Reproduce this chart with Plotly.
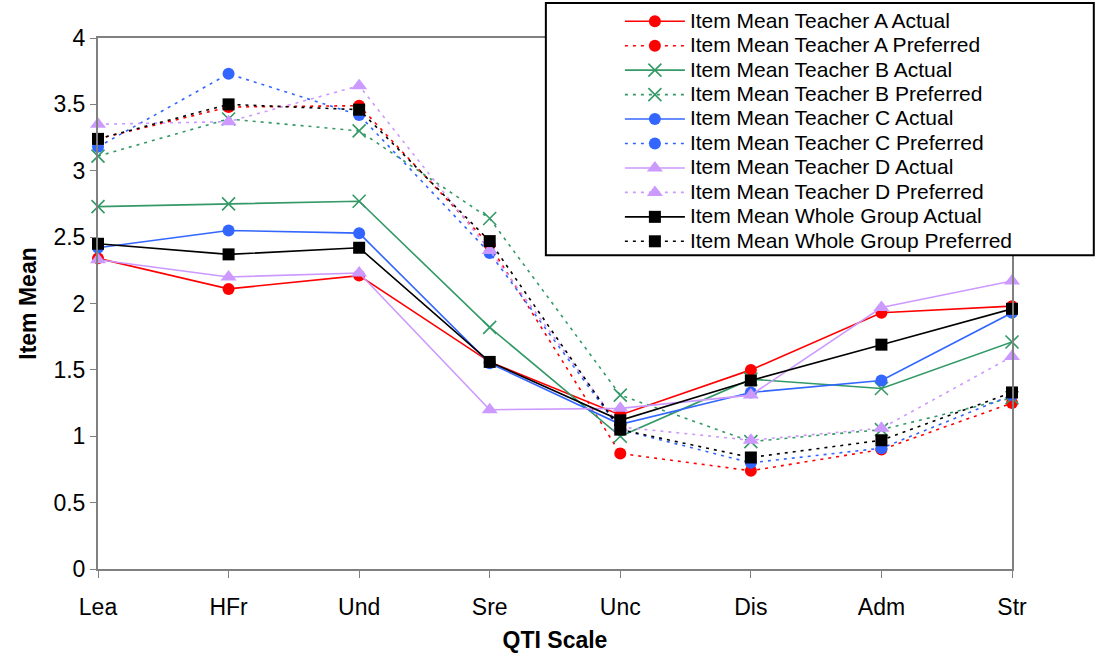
import plotly.graph_objects as go

scales = ["Lea", "HFr", "Und", "Sre", "Unc", "Dis", "Adm", "Str"]

teacher_a_actual = [2.34, 2.11, 2.21, 1.56, 1.16, 1.50, 1.93, 1.98]
teacher_a_preferred = [3.24, 3.48, 3.49, 2.44, 0.87, 0.74, 0.90, 1.25]
teacher_b_actual = [2.73, 2.75, 2.77, 1.82, 1.00, 1.43, 1.36, 1.71]
teacher_b_preferred = [3.11, 3.39, 3.30, 2.64, 1.31, 0.96, 1.05, 1.29]
teacher_c_actual = [2.42, 2.55, 2.53, 1.55, 1.09, 1.33, 1.42, 1.93]
teacher_c_preferred = [3.18, 3.73, 3.42, 2.38, 1.05, 0.80, 0.91, 1.31]
teacher_d_actual = [2.33, 2.20, 2.23, 1.20, 1.21, 1.31, 1.97, 2.17]
teacher_d_preferred = [3.35, 3.37, 3.64, 2.40, 1.07, 0.97, 1.06, 1.60]
group_actual = [2.45, 2.37, 2.42, 1.56, 1.12, 1.42, 1.69, 1.96]
group_preferred = [3.24, 3.50, 3.46, 2.47, 1.05, 0.84, 0.97, 1.33]

RED = "#FF0000"
GREEN = "#339966"
BLUE = "#3366FF"
LILAC = "#CC99FF"
BLACK = "#000000"

series = [
    ("Item Mean Teacher A Actual", teacher_a_actual, RED, "circle", "solid", 12),
    ("Item Mean Teacher A Preferred", teacher_a_preferred, RED, "circle", "dot", 12),
    ("Item Mean Teacher B Actual", teacher_b_actual, GREEN, "x-thin-open", "solid", 13),
    ("Item Mean Teacher B Preferred", teacher_b_preferred, GREEN, "x-thin-open", "dot", 13),
    ("Item Mean Teacher C Actual", teacher_c_actual, BLUE, "circle", "solid", 12),
    ("Item Mean Teacher C Preferred", teacher_c_preferred, BLUE, "circle", "dot", 12),
    ("Item Mean Teacher D Actual", teacher_d_actual, LILAC, "triangle-up", "solid", 14),
    ("Item Mean Teacher D Preferred", teacher_d_preferred, LILAC, "triangle-up", "dot", 14),
    ("Item Mean Whole Group Actual", group_actual, BLACK, "square", "solid", 12),
    ("Item Mean Whole Group Preferred", group_preferred, BLACK, "square", "dot", 12),
]

# legend rows are spaced by the (smaller) legend font; the label itself is larger
LEGEND_LABEL = '<span style="font-size:21px">{}</span>'

fig = go.Figure()
for name, values, color, symbol, dash, size in series:
    marker = dict(symbol=symbol, size=size, color=color)
    if symbol.startswith("x-thin"):
        marker["line"] = dict(color=color, width=1.6)
    fig.add_trace(go.Scatter(
        x=list(range(len(scales))),
        y=values,
        name=LEGEND_LABEL.format(name),
        mode="lines+markers",
        line=dict(color=color, width=1.6, dash="3px,5px" if dash == "dot" else "solid"),
        marker=marker,
        cliponaxis=False,
    ))

# framed box behind the legend
fig.add_shape(
    type="rect", xref="paper", yref="paper",
    x0=0.490, x1=1.0895, y0=0.591, y1=1.066,
    line=dict(color="black", width=2), fillcolor="white", layer="above",
)

fig.update_layout(
    width=1096,
    height=659,
    margin=dict(l=98, r=84, t=38, b=90, autoexpand=False),
    paper_bgcolor="white",
    plot_bgcolor="white",
    font=dict(family="Liberation Sans, Arial, sans-serif", size=22, color="black"),
    showlegend=True,
    legend=dict(
        x=0.571, y=1.064, xanchor="left", yanchor="top",
        bgcolor="rgba(0,0,0,0)", borderwidth=0,
        font=dict(size=16.5),
        tracegroupgap=0,
        itemwidth=60,
    ),
    xaxis=dict(
        tickmode="array",
        tickvals=list(range(len(scales))),
        ticktext=scales,
        range=[0, len(scales) - 1],
        showgrid=False,
        zeroline=False,
        automargin=False,
        showline=True, linecolor="#808080", linewidth=2, mirror=True,
        ticks="outside", ticklen=7, tickcolor="#808080", tickwidth=1,
        tickfont=dict(size=23),
        ticklabelstandoff=9,
        title=dict(text="<b>QTI Scale</b>", font=dict(size=23), standoff=13),
    ),
    yaxis=dict(
        range=[0, 4],
        dtick=0.5,
        showgrid=False,
        zeroline=False,
        automargin=False,
        showline=True, linecolor="#808080", linewidth=2, mirror=True,
        ticks="outside", ticklen=6, tickcolor="#808080", tickwidth=1,
        tickfont=dict(size=23),
        title=dict(text="<b>Item Mean</b>", font=dict(size=23), standoff=10),
    ),
)

fig.write_html("out.html")
